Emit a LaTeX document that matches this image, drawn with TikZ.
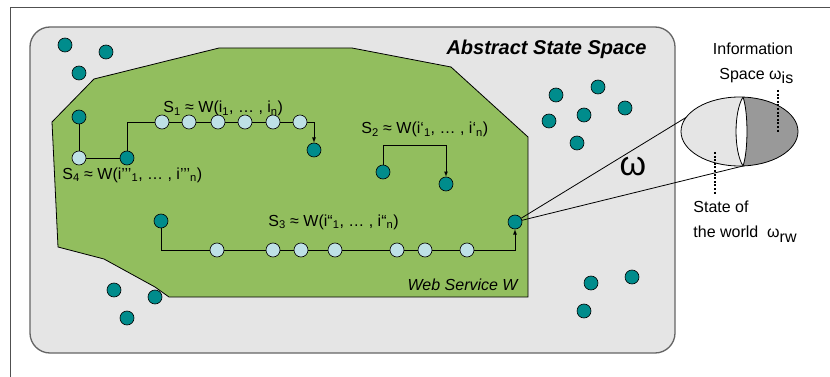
\documentclass[tikz,border=0pt]{standalone}
\usepackage{fontspec}
\setmainfont{Liberation Sans}
\usepackage{tikz}

\definecolor{dotteal}{RGB}{0,140,140}
\definecolor{hoplight}{RGB}{190,225,230}
\definecolor{webgreen}{RGB}{146,190,94}
\definecolor{spacegray}{RGB}{229,229,229}
\definecolor{boxedge}{RGB}{100,100,100}
\definecolor{infogray}{RGB}{153,153,153}
\definecolor{framegray}{RGB}{80,80,80}

\begin{document}
\begin{tikzpicture}[x=1pt,y=-1pt,line width=0.8pt,
    dot/.style={draw, circle, fill=dotteal, inner sep=0pt, minimum size=14pt, line width=0.6pt},
    hop/.style={draw, circle, fill=hoplight, inner sep=0pt, minimum size=14pt, line width=0.6pt},
    lbl/.style={font=\fontsize{16}{19}\selectfont, inner sep=0pt}]
\useasboundingbox (0,0) rectangle (830,377);
\draw[framegray] (10,377) -- (10,7) -- (830,7);
\draw[boxedge, fill=spacegray, line width=1.3pt, rounded corners=20pt] (30,27) rectangle (675,353);
\draw[fill=webgreen] (52,122) -- (94,79) -- (219,48) -- (352,48) -- (451,67) -- (528,137)
  -- (528,297) -- (169,297) -- (155,287) -- (104,259) -- (58,247) -- cycle;

% loose states
\foreach \n/\x/\y in {d1/65/45, d2/106/52, d3/79/73, d4/556/95, d5/598/87, d6/584/115,
  d7/625/108, d8/549/121, d9/577/143, d10/114/290, d11/155/297, d12/127/318,
  d13/591/283, d14/632/277, d15/584/311}
  \node[dot] (\n) at (\x,\y) {};

% S4 and S1
\node[dot] (a1) at (79,117) {};
\node[hop] (a2) at (79,158) {};
\node[dot] (a3) at (127,158) {};
\foreach \n/\x in {b1/162, b2/189, b3/218, b4/245, b5/273, b6/300} \node[hop] (\n) at (\x,122) {};
\node[dot] (b7) at (314,150) {};
\draw (a1) -- (a2) -- (a3);
\draw (a3) |- (b1);
\foreach \u/\v in {b1/b2,b2/b3,b3/b4,b4/b5,b5/b6} \draw (\u) -- (\v);
\draw[-latex] (b6) -| (b7);

% S2
\node[dot] (c1) at (383,172) {};
\node[dot] (c2) at (446,184) {};
\coordinate (c0) at (446,145);
\draw[-latex] (c1) |- (c0) -- (c2);

% S3
\node[dot] (e1) at (161,221) {};
\foreach \n/\x in {f1/217, f2/273, f3/301, f4/335, f5/397, f6/425, f7/467} \node[hop] (\n) at (\x,250) {};
\node[dot] (e2) at (515,222) {};
\draw (e1) |- (f1);
\foreach \u/\v in {f1/f2,f2/f3,f3/f4,f4/f5,f5/f6,f6/f7} \draw (\u) -- (\v);
\draw[-latex] (f7) -| (e2);

% labels
\node[lbl, anchor=base west] (s1) at (163,113) {S\textsubscript{1} ≈ W(i\textsubscript{1}, … , i\textsubscript{n})};
\node[lbl, anchor=base west] (s2) at (361,134) {S\textsubscript{2} ≈ W(i‘\textsubscript{1}, … , i‘\textsubscript{n})};
\node[lbl, anchor=base west] (s3) at (268,226) {S\textsubscript{3} ≈ W(i“\textsubscript{1}, … , i“\textsubscript{n})};
\node[lbl, anchor=base west] (s4) at (62,179) {S\textsubscript{4} ≈ W(i’’’\textsubscript{1}, … , i’’’\textsubscript{n})};
\node[inner sep=0pt, anchor=base east, font=\fontsize{20}{24}\selectfont\bfseries\itshape] (title) at (647,55) {Abstract State Space};
\node[inner sep=0pt, anchor=base east, font=\fontsize{16}{19}\selectfont\itshape] (ws) at (518,290) {Web Service W};
\node[font=\fontsize{34}{40}\selectfont] (om) at (633,167) {ω};

% zoom on one state
\coordinate (ec) at (739.5,131.5);
\coordinate (lt) at (743,97);
\coordinate (lb) at (743,166);
\coordinate (zt) at (690,115);
\draw (e2) -- (zt);
\draw (e2) -- (lb);
\fill[white] (ec) ellipse [x radius=58.5pt, y radius=34.5pt];
\begin{scope}
  \clip (ec) ellipse [x radius=58.5pt, y radius=34.5pt];
  \fill[spacegray] (lt) .. controls (733.7,112) and (733.7,151) .. (lb) -- (743,180) -- (670,180) -- (670,85) -- (743,85) -- cycle;
  \fill[infogray] (lt) .. controls (748.3,112) and (748.3,151) .. (lb) -- (743,180) -- (805,180) -- (805,85) -- (743,85) -- cycle;
\end{scope}
\draw (ec) ellipse [x radius=58.5pt, y radius=34.5pt];
\draw (lt) .. controls (733.7,112) and (733.7,151) .. (lb) .. controls (748.3,151) and (748.3,112) .. (lt);
\draw[line width=2.2pt, dash pattern=on 2pt off 1.6pt] (778,90) -- (778,132);
\draw[line width=2.2pt, dash pattern=on 2pt off 1.6pt] (715,152) -- (715,194);

\node[lbl, anchor=base] (info) at (753,55) {Information};
\node[lbl, anchor=base west] (infosp) at (719,80) {Space ω\raisebox{-4pt}{is}};
\node[lbl, anchor=base west] (world1) at (693,212) {State of};
\node[lbl, anchor=base west] (world2) at (693,237) {the world\ \ ω\raisebox{-5pt}{rw}};
\end{tikzpicture}
\end{document}
